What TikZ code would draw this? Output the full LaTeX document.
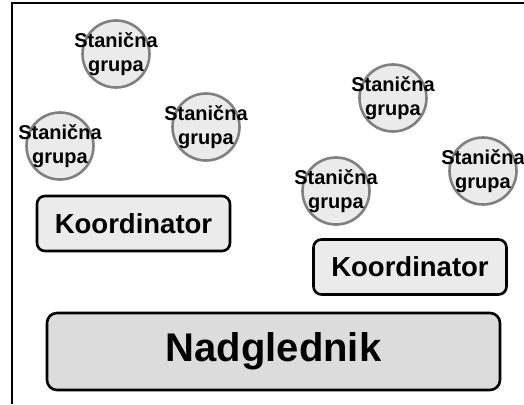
\documentclass[tikz,border=0pt]{standalone}
\usepackage{fontspec}
\setmainfont{Liberation Sans}
\usetikzlibrary{positioning}
\definecolor{lightfill}{HTML}{EBEBEB}
\definecolor{darkfill}{HTML}{DCDCDC}
\definecolor{ringgray}{HTML}{808080}

\begin{document}
\begin{tikzpicture}[x=1pt, y=-1pt,
  grupa/.style = {circle, draw=ringgray, line width=2.6pt, fill=lightfill, minimum size=67pt, inner sep=0pt,
                  label={[align=center, font=\fontsize{20}{24.5}\selectfont\bfseries]center:Stanična\\grupa}},
  koord/.style = {rectangle, rounded corners=8pt, draw=black, line width=2.6pt, fill=lightfill, minimum width=193pt, minimum height=55pt, font=\fontsize{27.5}{32}\selectfont\bfseries},
  nadgl/.style = {rectangle, rounded corners=10pt, draw=black, line width=2.6pt, fill=darkfill, minimum width=453pt, minimum height=77pt, font=\fontsize{40}{46}\selectfont\bfseries}]
\useasboundingbox (0,0) rectangle (524,404);
% frame
\coordinate (fb) at (12,404);
\coordinate (fc) at (12,3);
\coordinate (fr) at (524,3);
\draw[line width=2pt] (fb) -- (fc) -- (fr);
% station groups
\node[grupa] (g1) at (116,54) {};
\node[grupa] (g2) at (60,146) {};
\node[grupa] (g3) at (206,127) {};
\node[grupa] (g4) at (393,98) {};
\node[grupa] (g5) at (336,191) {};
\node[grupa] (g6) at (483,171) {};
% coordinators
\node[koord] (k1) at (133.5,223.5) {Koordinator};
\node[koord] (k2) at (410,267) {Koordinator};
% supervisor
\node[nadgl] (n) at (273.5,351.5) {Nadglednik};
\end{tikzpicture}
\end{document}
